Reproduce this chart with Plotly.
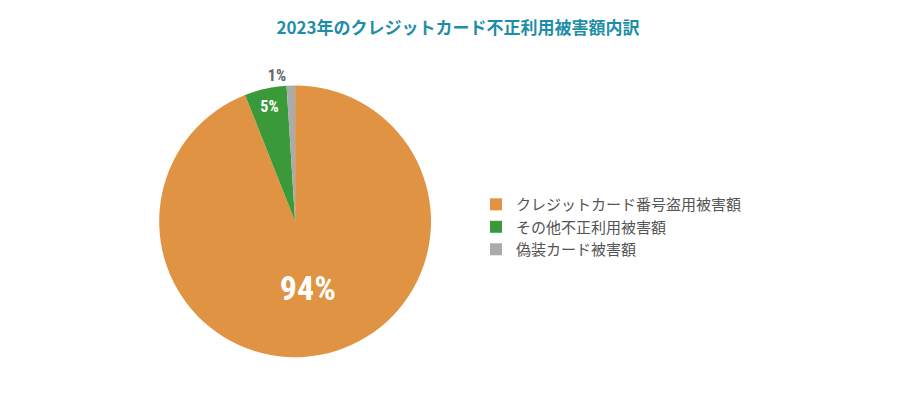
import plotly.graph_objects as go

labels = ["クレジットカード番号盗用被害額", "その他不正利用被害額", "偽装カード被害額"]
values = [94, 5, 1]
colors = ["#E09342", "#3A9A3A", "#ABABAB"]

fig = go.Figure(go.Pie(
    labels=labels, values=values, sort=False, direction="clockwise", rotation=0,
    marker=dict(colors=colors, line=dict(width=0)),
    texttemplate="<b>%{value}%</b>",
    textposition=["inside", "inside", "outside"],
    insidetextorientation="horizontal",
    textfont=dict(color=["white", "white", "#666666"], size=[34, 16, 16],
                  family="Roboto Condensed, Roboto, sans-serif"),
    domain=dict(x=[0.168, 0.470], y=[0.150, 0.812]),
    hoverinfo="label+percent",
))
fig.update_layout(
    width=900, height=411, margin=dict(l=0, r=0, t=0, b=0),
    paper_bgcolor="white", plot_bgcolor="white",
    font=dict(family="Noto Sans CJK JP, sans-serif", color="#555555"),
    title=dict(text="<b>2023年のクレジットカード不正利用被害額内訳</b>", x=0.5, y=0.965,
               xanchor="center", font=dict(size=17, color="#1E8EA8")),
    legend=dict(x=0.52, y=0.467, xanchor="left", yanchor="middle",
                font=dict(size=15, color="#555555"), itemwidth=30),
)
fig.write_html("out.html")
